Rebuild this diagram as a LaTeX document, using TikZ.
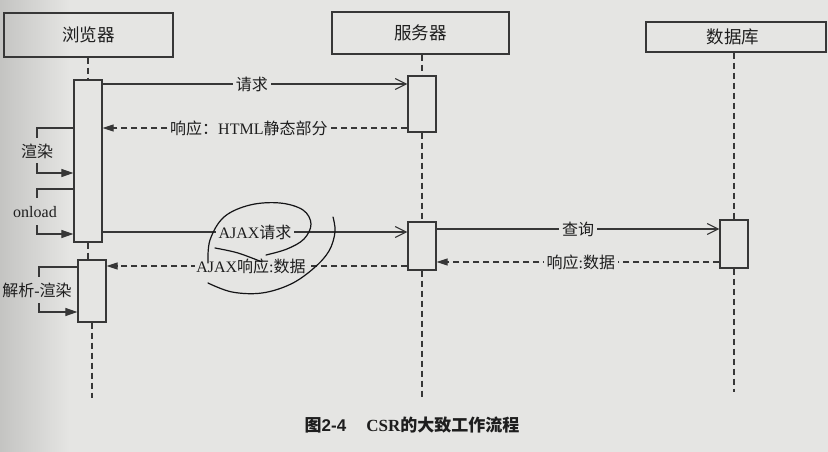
\documentclass[tikz,border=0pt]{standalone}
\usepackage{fontspec}
\setmainfont{Liberation Serif}
\newfontfamily\cjk{Noto Sans CJK SC}
\newfontfamily\capsans{Liberation Sans}
\usetikzlibrary{arrows.meta}
\definecolor{bg}{RGB}{229,229,227}
\definecolor{bgdark}{RGB}{196,196,194}
\definecolor{ink}{RGB}{55,55,55}
\definecolor{txt}{RGB}{30,30,30}
\definecolor{pen}{RGB}{20,20,22}
\tikzset{
  actor/.style={draw=ink, line width=1.3pt, inner sep=0pt, font=\cjk\fontsize{17.5}{20}\selectfont, text=txt},
  bar/.style={draw=ink, line width=1.2pt, fill=bg, minimum width=28pt, inner sep=0pt},
  lifeline/.style={draw=ink, line width=1.2pt, dash pattern=on 6pt off 4pt},
  msg/.style={draw=ink, line width=1.1pt, -{Straight Barb[length=11pt,width=11pt,line width=1.1pt]}},
  reply/.style={draw=ink, line width=1.1pt, dash pattern=on 6pt off 4pt, -{Triangle[length=11pt,width=7pt]}},
  self/.style={draw=ink, line width=1.1pt},
  selfarr/.style={draw=ink, line width=1.1pt, -{Triangle[length=12pt,width=8pt]}},
  lbl/.style={font=\fontsize{16}{19}\selectfont, text=txt, fill=bg, inner xsep=3pt, inner ysep=1pt},
  sidelbl/.style={font=\fontsize{16}{19}\selectfont, text=txt, inner sep=0pt},
  scrib/.style={draw=pen, line width=1.2pt, line cap=round}
}
\begin{document}
\begin{tikzpicture}[x=1pt, y=-1pt]
\useasboundingbox (0,0) rectangle (828,452);
\fill[bg] (0,0) rectangle (828,452);
\shade[left color=bgdark, right color=bg] (0,0) rectangle (70,452);

% actors
\node[actor, minimum width=169pt, minimum height=44pt] (browser) at (88.5,35) {浏览器};
\node[actor, minimum width=177pt, minimum height=42pt] (server) at (420.5,33) {服务器};
\node[actor, minimum width=180pt, minimum height=30pt] (db) at (736,37) {\hspace*{-6pt}数据库};

% activation bars
\node[bar, minimum height=162pt] (b1) at (88,161) {};
\node[bar, minimum height=62pt] (b2) at (92,291) {};
\node[bar, minimum height=56pt] (s1) at (422,104) {};
\node[bar, minimum height=48pt] (s2) at (422,246) {};
\node[bar, minimum height=48pt] (d1) at (734,244) {};

% lifeline ends
\coordinate (bend) at (92,398);
\coordinate (send) at (422,398);
\coordinate (dend) at (734,392);

% lifelines
\draw[lifeline] (b1.north |- browser.south) -- (b1.north);
\draw[lifeline] (b1.south) -- (b1.south |- b2.north);
\draw[lifeline] (b2.south) -- (bend);
\draw[lifeline] (s1.north |- server.south) -- (s1.north);
\draw[lifeline] (s1.south) -- (s2.north);
\draw[lifeline] (s2.south) -- (send);
\draw[lifeline] (d1.north |- db.south) -- (d1.north);
\draw[lifeline] (d1.south) -- (dend);

% messages
\draw[msg] (b1.east |- 0,84) -- node[lbl, pos=0.49] {\cjk 请求} (s1.west |- 0,84);
\draw[reply] (s1.west |- 0,128) -- node[lbl, pos=0.52, inner xsep=1pt] {{\cjk 响应：}HTML{\cjk 静态部分}} (b1.east |- 0,128);
\draw[msg] (b1.east |- 0,232) -- node[lbl, pos=0.5] {AJAX{\cjk 请求}} (s2.west |- 0,232);
\draw[reply] (s2.west |- 0,266) -- node[lbl, pos=0.52, inner xsep=1pt] {AJAX{\cjk 响应}:{\cjk 数据}} (b2.east |- 0,266);
\draw[msg] (s2.east |- 0,229) -- node[lbl, pos=0.5] {\cjk 查询} (d1.west |- 0,229);
\draw[reply] (d1.west |- 0,262) -- node[lbl, pos=0.49] {{\cjk 响应}:{\cjk 数据}} (s2.east |- 0,262);

% self calls on the browser
\coordinate (r1) at (37,151);
\coordinate (r2) at (35,212);
\coordinate (r3) at (37,290);
\draw[self] (b1.west |- 0,128) -- (37,128) -- (37,138);
\node[sidelbl] (lr1) at (r1) {\cjk 渲染};
\draw[selfarr] (37,163) -- (37,173) -- (b1.west |- 0,173);
\draw[self] (b1.west |- 0,189) -- (37,189) -- (37,198);
\node[sidelbl] (lr2) at (r2) {onload};
\draw[selfarr] (37,225) -- (37,234) -- (b1.west |- 0,234);
\draw[self] (b2.west |- 0,267) -- (39,267) -- (39,277);
\node[sidelbl] (lr3) at (r3) {{\cjk 解析}-{\cjk 渲染}};
\draw[selfarr] (39,303) -- (39,312) -- (b2.west |- 0,312);

% hand-drawn pen marks
\draw[scrib] plot[smooth, tension=0.6] coordinates {(208,263) (210,240) (224,217) (250,205) (280,203) (303,210) (311,224) (304,239) (287,249) (266,255)};
\draw[scrib] plot[smooth, tension=0.6] coordinates {(215,248) (238,253) (262,262)};
\draw[scrib] plot[smooth, tension=0.6] coordinates {(333,217) (335,232) (329,251) (314,268) (291,284) (262,293) (232,292) (208,283)};

% caption
\node[font=\fontsize{17}{20}\selectfont\bfseries, text=txt] (caption) at (412,425)
  {{\cjk\bfseries 图}{\capsans\bfseries 2-4}\hspace{20pt}CSR{\cjk\bfseries 的大致工作流程}};
\end{tikzpicture}
\end{document}
